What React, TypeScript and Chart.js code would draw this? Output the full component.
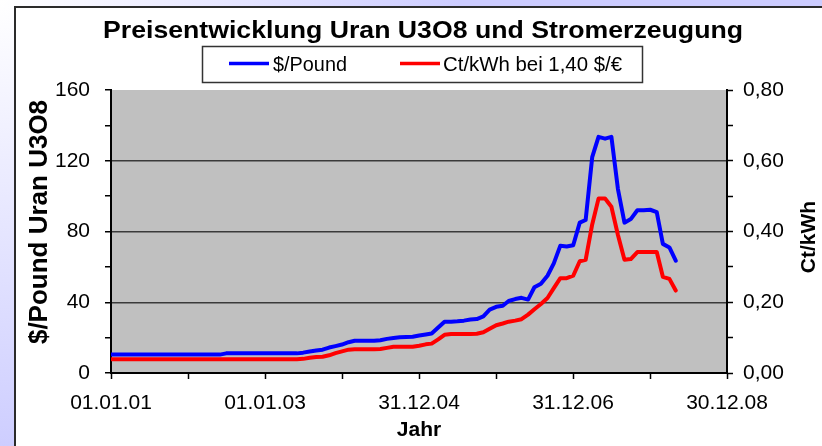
import React, { useEffect, useRef } from 'react';
import { Chart, registerables } from 'chart.js';

Chart.register(...registerables);

// ---------------- data ----------------
const months = [
  '2001-01', '2001-02', '2001-03', '2001-04', '2001-05', '2001-06', '2001-07', '2001-08', '2001-09', '2001-10', '2001-11', '2001-12',
  '2002-01', '2002-02', '2002-03', '2002-04', '2002-05', '2002-06', '2002-07', '2002-08', '2002-09', '2002-10', '2002-11', '2002-12',
  '2003-01', '2003-02', '2003-03', '2003-04', '2003-05', '2003-06', '2003-07', '2003-08', '2003-09', '2003-10', '2003-11', '2003-12',
  '2004-01', '2004-02', '2004-03', '2004-04', '2004-05', '2004-06', '2004-07', '2004-08', '2004-09', '2004-10', '2004-11', '2004-12',
  '2005-01', '2005-02', '2005-03', '2005-04', '2005-05', '2005-06', '2005-07', '2005-08', '2005-09', '2005-10', '2005-11', '2005-12',
  '2006-01', '2006-02', '2006-03', '2006-04', '2006-05', '2006-06', '2006-07', '2006-08', '2006-09', '2006-10', '2006-11', '2006-12',
  '2007-01', '2007-02', '2007-03', '2007-04', '2007-05', '2007-06', '2007-07', '2007-08', '2007-09', '2007-10', '2007-11', '2007-12',
  '2008-01', '2008-02', '2008-03', '2008-04', '2008-05',
];

const usdPerPound = [
  10.4, 10.4, 10.4, 10.4, 10.4, 10.4, 10.4, 10.4, 10.4, 10.4, 10.4, 10.4,
  10.4, 10.4, 10.4, 10.4, 10.4, 10.4, 11.1, 11.1, 11.1, 11.1, 11.1, 11.1,
  11.1, 11.1, 11.1, 11.1, 11.1, 11.1, 11.5, 12.2, 12.7, 13.2, 14.4, 15.2,
  16.1, 17.4, 18.2, 18.2, 18.2, 18.2, 18.5, 19.3, 19.8, 20.2, 20.4, 20.5,
  21.2, 21.8, 22.3, 25.7, 29.0, 29.0, 29.2, 29.6, 30.2, 30.5, 32.0, 35.8,
  37.4, 38.0, 40.7, 41.8, 42.5, 41.5, 48.5, 50.5, 55.0, 62.0, 72.0, 71.5,
  72.2, 85.0, 86.5, 122.0, 133.5, 132.5, 133.5, 104.0, 85.0, 87.0, 92.0, 92.0,
  92.3, 91.0, 73.0, 71.0, 63.5,
];

const ctPerKwh = [
  0.039, 0.039, 0.039, 0.039, 0.039, 0.039, 0.039, 0.039, 0.039, 0.039, 0.039, 0.039,
  0.039, 0.039, 0.039, 0.039, 0.039, 0.039, 0.039, 0.039, 0.039, 0.039, 0.039, 0.039,
  0.039, 0.039, 0.039, 0.039, 0.039, 0.039, 0.040, 0.043, 0.045, 0.046, 0.050, 0.056,
  0.061, 0.066, 0.067, 0.067, 0.067, 0.067, 0.068, 0.071, 0.074, 0.074, 0.074, 0.074,
  0.077, 0.081, 0.083, 0.095, 0.108, 0.110, 0.110, 0.110, 0.110, 0.111, 0.115, 0.125,
  0.135, 0.140, 0.145, 0.148, 0.152, 0.165, 0.180, 0.195, 0.212, 0.240, 0.268, 0.268,
  0.275, 0.316, 0.320, 0.420, 0.493, 0.493, 0.470, 0.390, 0.320, 0.322, 0.342, 0.342,
  0.342, 0.342, 0.272, 0.266, 0.233,
];

const xTickLabels = ['01.01.01', '01.01.03', '31.12.04', '31.12.06', '30.12.08'];
const leftTickLabels = ['0', '40', '80', '120', '160'];
const rightTickLabels = ['0,00', '0,20', '0,40', '0,60', '0,80'];

const chartTitle = 'Preisentwicklung Uran U3O8 und Stromerzeugung';
const seriesNames = ['$/Pound', 'Ct/kWh bei 1,40 $/€'];
const leftAxisTitle = '$/Pound Uran U3O8';
const rightAxisTitle = 'Ct/kWh';
const xAxisTitle = 'Jahr';

// ---------------- helpers ----------------
const AXIS_START = Date.UTC(2001, 0, 1);
const DAY_MS = 86400000;
const dayOffset = (ym: string) => {
  const [y, m] = ym.split('-').map(Number);
  return (Date.UTC(y, m - 1, 1) - AXIS_START) / DAY_MS;
};

const FONT = '"Liberation Sans", Arial, Helvetica, sans-serif';

function stretchedText(
  ctx: CanvasRenderingContext2D,
  text: string,
  x: number,
  baseline: number,
  font: string,
  width: number,
  align: CanvasTextAlign,
) {
  ctx.save();
  ctx.font = font;
  const w = ctx.measureText(text).width;
  ctx.translate(x, baseline);
  ctx.scale(width / w, 1);
  ctx.textAlign = align;
  ctx.textBaseline = 'alphabetic';
  ctx.fillStyle = '#000';
  ctx.fillText(text, 0, 0);
  ctx.restore();
}

const decorPlugin = {
  id: 'decor',
  beforeDraw(chart: any) {
    const { ctx, chartArea: a } = chart;
    ctx.save();
    ctx.fillStyle = '#ffffff';
    ctx.fillRect(14, 6, 830, 460);
    ctx.fillStyle = '#2b2b2b';
    ctx.fillRect(14, 6, 830, 2);
    ctx.fillRect(14, 6, 2, 460);
    ctx.fillStyle = '#c0c0c0';
    ctx.fillRect(a.left, a.top, a.right - a.left, a.bottom - a.top);
    ctx.restore();
  },
  afterDraw(chart: any) {
    const ctx: CanvasRenderingContext2D = chart.ctx;
    // title
    stretchedText(ctx, chartTitle, 423, 38, `bold 24px ${FONT}`, 640, 'center');

    // legend
    ctx.save();
    ctx.strokeStyle = '#333';
    ctx.lineWidth = 1.5;
    ctx.strokeRect(202.5, 46.5, 440, 36);
    ctx.restore();
    const items = [
      { lineX: 229, textX: 273, textW: 74 },
      { lineX: 400, textX: 443, textW: 179 },
    ];
    chart.data.datasets.forEach((ds: any, i: number) => {
      const it = items[i];
      ctx.save();
      ctx.strokeStyle = ds.borderColor;
      ctx.lineWidth = 3.5;
      ctx.beginPath();
      ctx.moveTo(it.lineX, 63.5);
      ctx.lineTo(it.lineX + 40, 63.5);
      ctx.stroke();
      ctx.restore();
      stretchedText(ctx, ds.label, it.textX, 71, `20px ${FONT}`, it.textW, 'left');
    });

    // left axis title (bottom to top)
    ctx.save();
    ctx.translate(40, 222);
    ctx.rotate(-Math.PI / 2);
    ctx.font = `bold 26px ${FONT}`;
    ctx.textAlign = 'center';
    ctx.textBaseline = 'middle';
    ctx.fillStyle = '#000';
    ctx.fillText(leftAxisTitle, 0, 0);
    ctx.restore();

    // right axis title (bottom to top)
    ctx.save();
    ctx.translate(809, 237);
    ctx.rotate(-Math.PI / 2);
    ctx.font = `bold 21px ${FONT}`;
    ctx.textAlign = 'center';
    ctx.textBaseline = 'middle';
    ctx.fillStyle = '#000';
    ctx.fillText(rightAxisTitle, 0, 0);
    ctx.restore();
  },
};

export default function App() {
  const canvasRef = useRef<HTMLCanvasElement | null>(null);

  useEffect(() => {
    const canvas = canvasRef.current;
    if (!canvas) return;
    Chart.defaults.font.family = FONT;
    Chart.defaults.color = '#000';

    const blueData = months.map((m, i) => ({ x: dayOffset(m), y: usdPerPound[i] }));
    const redData = months.map((m, i) => ({ x: dayOffset(m), y: ctPerKwh[i] }));

    const chart = new Chart(canvas, {
      type: 'line',
      data: {
        datasets: [
          {
            label: seriesNames[0],
            data: blueData,
            yAxisID: 'y',
            borderColor: '#0000ff',
            backgroundColor: '#0000ff',
            borderWidth: 4,
            pointRadius: 0,
            tension: 0,
            borderJoinStyle: 'round',
            borderCapStyle: 'round',
          },
          {
            label: seriesNames[1],
            data: redData,
            yAxisID: 'y2',
            borderColor: '#ff0000',
            backgroundColor: '#ff0000',
            borderWidth: 4,
            pointRadius: 0,
            tension: 0,
            borderJoinStyle: 'round',
            borderCapStyle: 'round',
          },
        ],
      },
      options: {
        responsive: false,
        animation: false,
        events: [],
        layout: { padding: { top: 90, left: 0, right: 0, bottom: 0 } },
        plugins: {
          legend: { display: false },
          tooltip: { enabled: false },
          title: { display: false },
        },
        scales: {
          x: {
            type: 'linear',
            position: 'bottom',
            min: 0,
            max: 2920,
            afterFit: (s: any) => { s.height = 73; },
            ticks: {
              stepSize: 365,
              autoSkip: false,
              maxRotation: 0,
              padding: 12,
              font: { size: 21 },
              color: '#000',
              callback: (_v: any, i: number) => (i % 2 === 0 ? xTickLabels[i / 2] : ''),
            },
            grid: {
              drawOnChartArea: false,
              drawTicks: true,
              tickLength: 6,
              tickColor: '#000',
              tickWidth: 1.5,
            },
            border: { display: true, color: '#000', width: 2 },
            title: {
              display: true,
              text: xAxisTitle,
              font: { size: 21, weight: 'bold' },
              color: '#000',
              padding: { top: 0, bottom: 3 },
            },
          },
          y: {
            type: 'linear',
            position: 'left',
            min: 0,
            max: 160,
            afterFit: (s: any) => { s.width = 111; },
            ticks: {
              stepSize: 20,
              padding: 15,
              font: { size: 21 },
              color: '#000',
              callback: (_v: any, i: number) => (i % 2 === 0 ? leftTickLabels[i / 2] : ''),
            },
            grid: {
              drawOnChartArea: true,
              drawTicks: true,
              tickLength: 6,
              lineWidth: 1.5,
              tickWidth: 1.5,
              tickColor: '#000',
              color: (c: any) => {
                const v = c.tick ? c.tick.value : 0;
                return v % 40 === 0 && v !== 0 && v !== 160 ? '#3a3a3a' : 'rgba(0,0,0,0)';
              },
            },
            border: { display: true, color: '#000', width: 2 },
          },
          y2: {
            type: 'linear',
            position: 'right',
            min: 0,
            max: 0.8,
            afterFit: (s: any) => { s.width = 95; },
            ticks: {
              stepSize: 0.1,
              padding: 10,
              font: { size: 21 },
              color: '#000',
              callback: (_v: any, i: number) => (i % 2 === 0 ? rightTickLabels[i / 2] : ''),
            },
            grid: {
              drawOnChartArea: false,
              drawTicks: true,
              tickLength: 6,
              tickWidth: 1.5,
              tickColor: '#000',
            },
            border: { display: true, color: '#000', width: 2 },
          },
        },
      } as any,
      plugins: [decorPlugin],
    });

    return () => chart.destroy();
  }, []);

  return (
    <div
      style={{
        position: 'fixed',
        left: 0,
        top: 0,
        width: 822,
        height: 446,
        overflow: 'hidden',
        background: 'radial-gradient(circle at 0 0, #ffffff 0px, #ccccff 460px)',
      }}
    >
      <canvas ref={canvasRef} width={822} height={446} style={{ display: 'block' }} />
    </div>
  );
}
